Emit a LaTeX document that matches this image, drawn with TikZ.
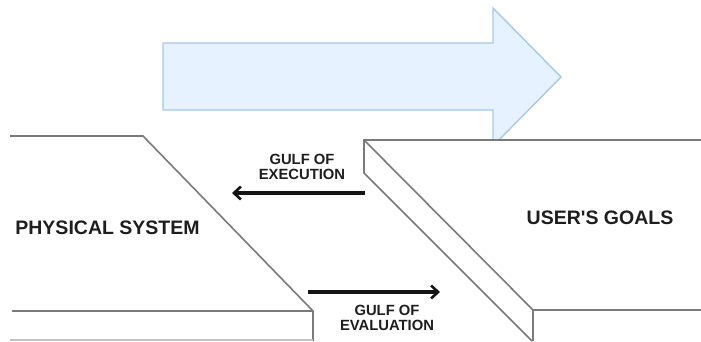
\documentclass[tikz,border=0pt]{standalone}
\usepackage{fontspec}
\setmainfont{Liberation Sans}[Ligatures=TeXOff]
\usetikzlibrary{arrows.meta}
\definecolor{edgegray}{HTML}{7A7A7A}
\definecolor{arrowfill}{HTML}{E6F2FF}
\definecolor{arrowline}{HTML}{A6C8EA}
\definecolor{txt}{HTML}{1E1E1E}
\tikzset{
  wall/.style={draw=edgegray, line width=1.6pt, line join=miter},
  bigtext/.style={font=\fontsize{19.5}{20}\selectfont\bfseries, text=txt, inner sep=0pt},
  smalltext/.style={font=\fontsize{14.8}{15}\selectfont\bfseries, text=txt, inner sep=0pt, align=center},
  gulf/.style={draw=black!92, line width=3.2pt, -{Straight Barb[length=7pt,width=13pt,line width=2.6pt]}}
}
\begin{document}
\begin{tikzpicture}[x=1pt,y=-1pt]
\useasboundingbox (0,0) rectangle (701,341);
% big blue arrow
\draw[draw=arrowline, fill=arrowfill, line width=1.4pt, line join=miter]
  (163,43) -- (493,43) -- (493,8) -- (561,77) -- (493,146) -- (493,110) -- (163,110) -- cycle;
% physical system shape
\draw[wall] (10,136) -- (143,136) -- (313,311) -- (313,341);
\draw[wall] (12,311) -- (313,311);
\draw[draw=edgegray!45, line width=1.2pt] (10,340) -- (313,340);
% user's goals shape
\fill[white] (364,140) -- (701,140) -- (701,310) -- (533,310) -- (533,341) -- (532,341) -- (364,173) -- cycle;
\draw[wall] (701,140) -- (364,140) -- (364,173) -- (532,341);
\draw[wall] (364,140) -- (533,310) -- (701,310);
\draw[wall] (533,310) -- (533,341);
% coordinates for the gulf arrows
\coordinate (exS) at (365,193);
\coordinate (exE) at (232,193);
\coordinate (evS) at (308,292);
\coordinate (evE) at (440,292);
\draw[gulf] (exS) -- (exE);
\draw[gulf] (evS) -- (evE);
% labels
\node[bigtext] (phys) at (107.5,228) {PHYSICAL SYSTEM};
\node[bigtext] (goals) at (600,218) {USER'S GOALS};
\node[smalltext] (exec) at (302,166.5) {GULF OF\\EXECUTION};
\node[smalltext] (eval) at (387,317.5) {GULF OF\\EVALUATION};
\end{tikzpicture}
\end{document}
